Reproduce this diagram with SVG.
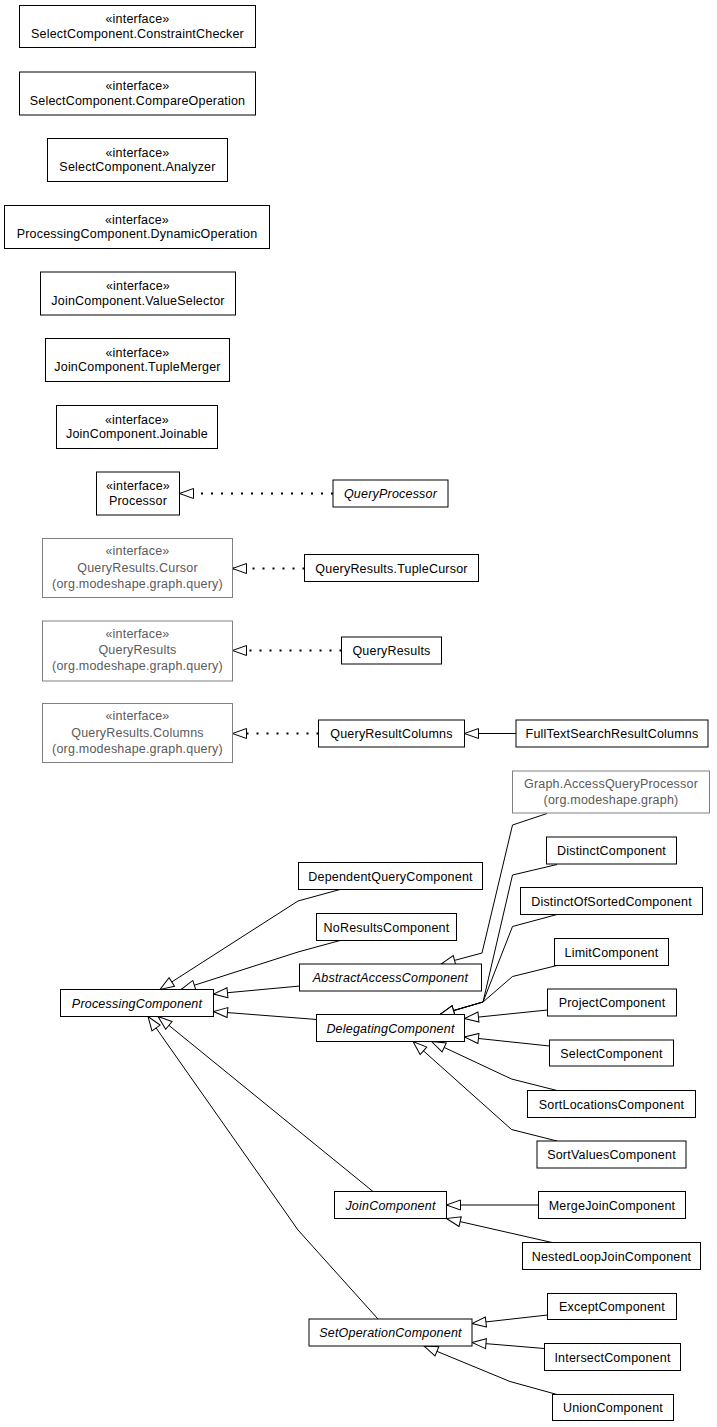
<svg xmlns="http://www.w3.org/2000/svg" width="717" height="1427" viewBox="0 0 717 1427">
<style>
rect{fill:#fff;stroke:#000;stroke-width:1}
.g rect{stroke:#808080}
text{font-family:"Liberation Sans",Arial,sans-serif;font-size:12.5px;letter-spacing:0.2px;text-anchor:middle;fill:#000}
.g text{fill:#5a5a5a}
.i{font-style:italic}
.e{fill:none;stroke:#000;stroke-width:1;marker-end:url(#tri)}
.d{stroke-dasharray:2 8;stroke-width:2}
.d2{marker-end:url(#tri2)}
</style>
<defs>
<marker id="tri" markerUnits="userSpaceOnUse" markerWidth="16" markerHeight="12" refX="15" refY="6" orient="auto" viewBox="0 0 16 12">
<path d="M1,1 L15,6 L1,11 Z" fill="#fff" stroke="#000" stroke-width="1"/>
</marker>
<marker id="tri2" markerUnits="userSpaceOnUse" markerWidth="16" markerHeight="12" refX="15" refY="6" orient="auto" viewBox="0 0 16 12">
<path d="M1,1 L15,6 L1,11 Z" fill="#fff" stroke="#000" stroke-width="1"/>
</marker>
</defs>
<rect x="0" y="0" width="717" height="1427" style="stroke:none"/>
<g id="edges">
<path class="e d" style="marker-end:url(#tri2)" d="M333,493.5 L179.5,493.5"/>
<path class="e d" style="marker-end:url(#tri2)" d="M304.5,568.5 L232.5,568.5"/>
<path class="e d" style="marker-end:url(#tri2)" d="M341.5,650.5 L232.5,650.5"/>
<path class="e d" style="marker-end:url(#tri2)" d="M318.5,733.5 L232.5,733.5"/>
<path class="e" d="M516,733.5 L464.5,733.5"/>
<path class="e" d="M340,889.5 L298,901 L160,989.5"/>
<path class="e" d="M340,940.5 L298,952 L181,989.5"/>
<path class="e" d="M300,986 L213.5,994"/>
<path class="e" d="M317,1019.5 L213.5,1011.5"/>
<path class="e" d="M373,1191.5 L158,1016.5"/>
<path class="e" d="M378,1319 L298,1230 L148,1016.5"/>
<path class="e" d="M547,813.5 L512.5,825 L482,953 L441,964"/>
<path class="e" d="M557,864.5 L512.5,875 L483,1002 L440,1014.5"/>
<path class="e" d="M557,914.5 L512.5,926.5 L483,1002 L440,1014.5"/>
<path class="e" d="M557,965.5 L512.5,976.5 L483,1002 L440,1014.5"/>
<path class="e" d="M547.5,1010 L464.5,1018.5"/>
<path class="e" d="M549.5,1046 L464.5,1037"/>
<path class="e" d="M557,1090.5 L511.5,1079 L431.5,1041.5"/>
<path class="e" d="M557,1141 L511.5,1129.5 L413,1041.5"/>
<path class="e" d="M538.5,1205 L446.5,1205"/>
<path class="e" d="M552,1242.5 L446.5,1218.5"/>
<path class="e" d="M547.5,1315 L472,1323.5"/>
<path class="e" d="M544.5,1348.5 L472,1342.5"/>
<path class="e" d="M557,1394.5 L510,1381.5 L424,1346"/>
</g>
<g id="n_constraintchecker"><rect x="19.5" y="5.5" width="236" height="42"/><text x="137.5" y="23">«interface»</text><text x="137.5" y="37.5">SelectComponent.ConstraintChecker</text></g>
<g id="n_compareoperation"><rect x="19.5" y="72" width="236" height="43"/><text x="137.5" y="90">«interface»</text><text x="137.5" y="104.5">SelectComponent.CompareOperation</text></g>
<g id="n_analyzer"><rect x="47.5" y="138.5" width="180" height="43"/><text x="137.5" y="156.5">«interface»</text><text x="137.5" y="171">SelectComponent.Analyzer</text></g>
<g id="n_dynamicoperation"><rect x="4.5" y="205.5" width="265" height="43"/><text x="137" y="223.5">«interface»</text><text x="137" y="238">ProcessingComponent.DynamicOperation</text></g>
<g id="n_valueselector"><rect x="40.5" y="272" width="195" height="43"/><text x="138" y="290">«interface»</text><text x="138" y="304.5">JoinComponent.ValueSelector</text></g>
<g id="n_tuplemerger"><rect x="45.5" y="338.5" width="184" height="43"/><text x="137.5" y="356.5">«interface»</text><text x="137.5" y="371">JoinComponent.TupleMerger</text></g>
<g id="n_joinable"><rect x="56.5" y="405.5" width="161" height="43"/><text x="137" y="423.5">«interface»</text><text x="137" y="438">JoinComponent.Joinable</text></g>
<g id="n_processor"><rect x="96.5" y="472" width="83" height="43"/><text x="138" y="490">«interface»</text><text x="138" y="504.5">Processor</text></g>
<g id="n_queryprocessor"><rect x="333" y="480" width="115" height="27"/><text class="i" x="390.5" y="498">QueryProcessor</text></g>
<g id="n_cursor" class="g"><rect x="42.5" y="538.5" width="190" height="59"/><text x="137.5" y="555">«interface»</text><text x="137.5" y="571.5">QueryResults.Cursor</text><text x="137.5" y="587.5">(org.modeshape.graph.query)</text></g>
<g id="n_tuplecursor"><rect x="304.5" y="554.5" width="174" height="27"/><text x="391.5" y="572.5">QueryResults.TupleCursor</text></g>
<g id="n_queryresults_if" class="g"><rect x="42.5" y="621" width="190" height="60"/><text x="137.5" y="637.5">«interface»</text><text x="137.5" y="654">QueryResults</text><text x="137.5" y="670">(org.modeshape.graph.query)</text></g>
<g id="n_queryresults"><rect x="341.5" y="637" width="100" height="27"/><text x="391.5" y="655">QueryResults</text></g>
<g id="n_columns" class="g"><rect x="42.5" y="703.5" width="190" height="59"/><text x="137.5" y="720">«interface»</text><text x="137.5" y="736.5">QueryResults.Columns</text><text x="137.5" y="752.5">(org.modeshape.graph.query)</text></g>
<g id="n_queryresultcolumns"><rect x="318.5" y="720" width="146" height="27"/><text x="391.5" y="738">QueryResultColumns</text></g>
<g id="n_fulltext"><rect x="516" y="720" width="192" height="27"/><text x="612" y="738">FullTextSearchResultColumns</text></g>
<g id="n_accessqueryprocessor" class="g"><rect x="512.5" y="771" width="197" height="42"/><text x="611" y="788">Graph.AccessQueryProcessor</text><text x="611" y="804">(org.modeshape.graph)</text></g>
<g id="n_distinct"><rect x="546.5" y="837" width="130" height="27"/><text x="611.5" y="855">DistinctComponent</text></g>
<g id="n_dependentquery"><rect x="298.5" y="862.5" width="184" height="27"/><text x="390.5" y="880.5">DependentQueryComponent</text></g>
<g id="n_distinctofsorted"><rect x="520.5" y="887.5" width="182" height="27"/><text x="611.5" y="905.5">DistinctOfSortedComponent</text></g>
<g id="n_noresults"><rect x="316.5" y="913.5" width="140" height="27"/><text x="386.5" y="931.5">NoResultsComponent</text></g>
<g id="n_limit"><rect x="554.5" y="938.5" width="114" height="27"/><text x="611.5" y="956.5">LimitComponent</text></g>
<g id="n_abstractaccess"><rect x="299.5" y="964" width="182" height="27"/><text class="i" x="390.5" y="982">AbstractAccessComponent</text></g>
<g id="n_processing"><rect x="60.5" y="989.5" width="153" height="27"/><text class="i" x="137" y="1007.5">ProcessingComponent</text></g>
<g id="n_project"><rect x="547.5" y="989" width="129" height="27"/><text x="612" y="1007">ProjectComponent</text></g>
<g id="n_delegating"><rect x="316.5" y="1014.5" width="148" height="27"/><text class="i" x="390.5" y="1032.5">DelegatingComponent</text></g>
<g id="n_select"><rect x="549.5" y="1040" width="124" height="26"/><text x="611.5" y="1057.5">SelectComponent</text></g>
<g id="n_sortlocations"><rect x="527.5" y="1090.5" width="168" height="27"/><text x="611.5" y="1108.5">SortLocationsComponent</text></g>
<g id="n_sortvalues"><rect x="537" y="1141" width="149" height="27"/><text x="611.5" y="1159">SortValuesComponent</text></g>
<g id="n_join"><rect x="334.5" y="1191.5" width="112" height="27"/><text class="i" x="390.5" y="1209.5">JoinComponent</text></g>
<g id="n_mergejoin"><rect x="538.5" y="1191.5" width="147" height="27"/><text x="612" y="1209.5">MergeJoinComponent</text></g>
<g id="n_nestedloopjoin"><rect x="522.5" y="1242.5" width="178" height="27"/><text x="611.5" y="1260.5">NestedLoopJoinComponent</text></g>
<g id="n_except"><rect x="547.5" y="1293.5" width="129" height="26"/><text x="612" y="1311">ExceptComponent</text></g>
<g id="n_setoperation"><rect x="309" y="1319" width="163" height="27"/><text class="i" x="390.5" y="1337">SetOperationComponent</text></g>
<g id="n_intersect"><rect x="544.5" y="1343.5" width="136" height="27"/><text x="612.5" y="1361.5">IntersectComponent</text></g>
<g id="n_union"><rect x="552.5" y="1394.5" width="121" height="26"/><text x="613" y="1412">UnionComponent</text></g>
</svg>
